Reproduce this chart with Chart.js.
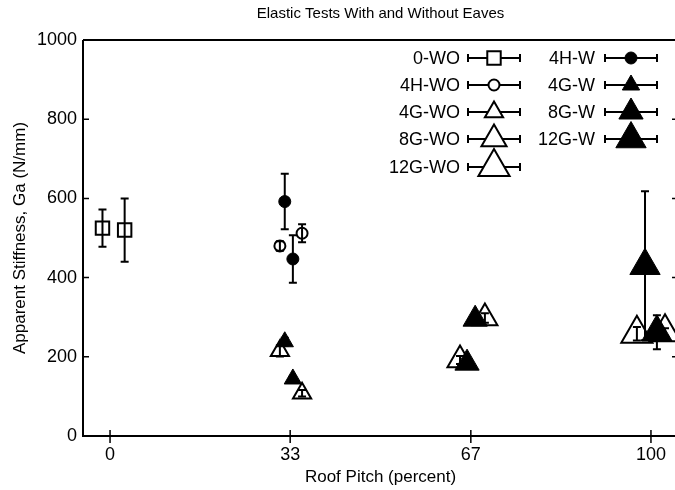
<!DOCTYPE html>
<html>
<head>
<meta charset="utf-8">
<script src="https://cdn.jsdelivr.net/npm/chart.js@4/dist/chart.umd.min.js"></script>
<style>
	body { margin: 0; overflow: hidden; background: #fff; }
</style>
</head>
<body>
<canvas id="myChart" width="680" height="490"></canvas>
<script>
// series: x = roof pitch (percent, jittered), y = stiffness, e = error half-width
var seriesNames = ['0-WO', '4H-WO', '4G-WO', '8G-WO', '12G-WO', '4H-W', '4G-W', '8G-W', '12G-W'];

var x0WO = [-1.4, 2.7];    var y0WO = [525, 520];  var e0WO = [47, 80];
var x4HWO = [31.4, 35.5];  var y4HWO = [480, 512]; var e4HWO = [12, 23];
var x4GWO = [31.4, 35.5];  var y4GWO = [215, 108]; var e4GWO = [14, 8];
var x8GWO = [64.7, 69.3];  var y8GWO = [192, 298]; var e8GWO = [10, 12];
var x12GWO = [97.4, 102.6]; var y12GWO = [258, 262]; var e12GWO = [17, 10];
var x4HW = [32.3, 33.8];   var y4HW = [592, 447];  var e4HW = [70, 60];
var x4GW = [32.3, 33.8];   var y4GW = [238, 144];  var e4GW = [10, 6];
var x8GW = [66.0, 67.5];   var y8GW = [184, 295];  var e8GW = [8, 12];
var x12GW = [98.9, 101.1]; var y12GW = [430, 262]; var e12GW = [188, 43];

var xTickValues = [0, 33.3, 66.7, 100];
var xTickLabels = ['0', '33', '67', '100'];

var FONT = '"Liberation Sans", Arial, Helvetica, sans-serif';

function pts(xs, ys) {
	var out = [];
	for (var i = 0; i < xs.length; i++) out.push({ x: xs[i], y: ys[i] });
	return out;
}

function series(label, xs, ys, es, style, radius, filled) {
	return {
		label: label,
		data: pts(xs, ys),
		errors: es,
		pointStyle: style,
		pointRadius: radius,
		pointHoverRadius: radius,
		pointBorderWidth: filled ? 1 : 2,
		pointBorderColor: '#000',
		pointBackgroundColor: filled ? '#000' : 'rgba(0,0,0,0)',
		showLine: false,
		filled: filled
	};
}

var datasets = [
	series(seriesNames[0], x0WO, y0WO, e0WO, 'rect', 9.5, false),
	series(seriesNames[1], x4HWO, y4HWO, e4HWO, 'circle', 5.5, false),
	series(seriesNames[2], x4GWO, y4GWO, e4GWO, 'triangle', 10.5, false),
	series(seriesNames[3], x8GWO, y8GWO, e8GWO, 'triangle', 14.5, false),
	series(seriesNames[4], x12GWO, y12GWO, e12GWO, 'triangle', 18, false),
	series(seriesNames[5], x4HW, y4HW, e4HW, 'circle', 6, true),
	series(seriesNames[6], x4GW, y4GW, e4GW, 'triangle', 10, true),
	series(seriesNames[7], x8GW, y8GW, e8GW, 'triangle', 14, true),
	series(seriesNames[8], x12GW, y12GW, e12GW, 'triangle', 17.5, true)
];

// vertical error bars with caps
var errorBars = {
	id: 'errorBars',
	beforeDatasetsDraw: function(chart) {
		var ctx = chart.ctx, xs = chart.scales.x, ys = chart.scales.y;
		ctx.save();
		ctx.strokeStyle = '#000';
		ctx.lineWidth = 2;
		chart.data.datasets.forEach(function(ds) {
			ds.data.forEach(function(p, i) {
				var x = xs.getPixelForValue(p.x);
				var top = ys.getPixelForValue(p.y + ds.errors[i]);
				var bot = ys.getPixelForValue(p.y - ds.errors[i]);
				ctx.beginPath();
				ctx.moveTo(x, top); ctx.lineTo(x, bot);
				ctx.moveTo(x - 4, top); ctx.lineTo(x + 4, top);
				ctx.moveTo(x - 4, bot); ctx.lineTo(x + 4, bot);
				ctx.stroke();
			});
		});
		ctx.restore();
	}
};

// gnuplot-like frame with inward ticks
var frame = {
	id: 'frame',
	afterDatasetsDraw: function(chart) {
		var ctx = chart.ctx, a = chart.chartArea, xs = chart.scales.x, ys = chart.scales.y;
		ctx.save();
		ctx.strokeStyle = '#000';
		ctx.lineWidth = 2;
		ctx.beginPath();
		ctx.moveTo(a.left, a.top); ctx.lineTo(a.right, a.top);
		ctx.moveTo(a.left, a.top); ctx.lineTo(a.left, a.bottom);
		ctx.moveTo(a.left - 1, a.bottom); ctx.lineTo(a.right, a.bottom);
		ctx.moveTo(a.right, a.top); ctx.lineTo(a.right, a.bottom);
		ctx.stroke();
		ctx.lineWidth = 1.5;
		ctx.beginPath();
		ys.ticks.forEach(function(t) {
			var y = ys.getPixelForValue(t.value);
			ctx.moveTo(a.left, y); ctx.lineTo(a.left + 6, y);
			ctx.moveTo(a.right, y); ctx.lineTo(a.right - 6, y);
		});
		xs.ticks.forEach(function(t) {
			var x = xs.getPixelForValue(t.value);
			ctx.moveTo(x, a.bottom - 6); ctx.lineTo(x, a.bottom + 7);
		});
		ctx.stroke();
		ctx.restore();
	}
};

// two-column key: label, errorbar sample, marker
var keyBox = {
	id: 'keyBox',
	afterDraw: function(chart) {
		var ctx = chart.ctx;
		var cols = [{ textRight: 460, lineLeft: 468, lineRight: 520 }, { textRight: 595, lineLeft: 605, lineRight: 657 }];
		var rowY = [58, 85, 112, 139, 167];
		ctx.save();
		ctx.font = '18px ' + FONT;
		ctx.textAlign = 'right';
		ctx.textBaseline = 'middle';
		chart.data.datasets.forEach(function(ds, i) {
			var col = cols[i < 5 ? 0 : 1];
			var y = rowY[i < 5 ? i : i - 5];
			var mid = (col.lineLeft + col.lineRight) / 2;
			ctx.fillStyle = '#000';
			ctx.fillText(ds.label, col.textRight, y + 1);
			ctx.strokeStyle = '#000';
			ctx.lineWidth = 2;
			ctx.beginPath();
			ctx.moveTo(col.lineLeft, y); ctx.lineTo(col.lineRight, y);
			ctx.moveTo(col.lineLeft, y - 4); ctx.lineTo(col.lineLeft, y + 4);
			ctx.moveTo(col.lineRight, y - 4); ctx.lineTo(col.lineRight, y + 4);
			ctx.stroke();
			ctx.fillStyle = ds.filled ? '#000' : '#fff';
			ctx.lineWidth = ds.pointBorderWidth;
			Chart.helpers.drawPoint(ctx, {
				pointStyle: ds.pointStyle,
				radius: ds.pointRadius,
				borderWidth: ds.pointBorderWidth,
				rotation: 0
			}, mid, y);
		});
		ctx.restore();
	}
};

var ctx = document.getElementById('myChart').getContext('2d');
var chart = new Chart(ctx, {
	type: 'scatter',
	data: { datasets: datasets },
	plugins: [errorBars, frame, keyBox],
	options: {
		responsive: false,
		animation: false,
		devicePixelRatio: 1,
		layout: { autoPadding: false, padding: { left: 0, right: 2, top: 0, bottom: 0 } },
		plugins: {
			legend: { display: false },
			tooltip: { enabled: false },
			title: {
				display: true,
				fullSize: false,
				text: 'Elastic Tests With and Without Eaves',
				color: '#000',
				font: { family: FONT, size: 15, weight: 'normal' },
				padding: { top: 5, bottom: 17 }
			}
		},
		scales: {
			x: {
				type: 'linear',
				min: -5,
				max: 105,
				grid: { display: false, drawTicks: false },
				border: { display: false },
				afterFit: function(scale) {
					scale.height = 54;
					scale.paddingLeft = 0;
					scale.paddingRight = 0;
				},
				afterBuildTicks: function(scale) {
					scale.ticks = xTickValues.map(function(v) { return { value: v }; });
				},
				ticks: {
					color: '#000',
					padding: 8,
					maxRotation: 0,
					font: { family: FONT, size: 18 },
					callback: function(value, index) { return xTickLabels[index]; }
				},
				title: {
					display: true,
					text: 'Roof Pitch (percent)',
					color: '#000',
					font: { family: FONT, size: 17 },
					padding: { top: 0, bottom: 2 }
				}
			},
			y: {
				min: 0,
				max: 1000,
				grid: { display: false, drawTicks: false },
				border: { display: false },
				afterFit: function(scale) {
					scale.width = 83;
					scale.paddingTop = 0;
					scale.paddingBottom = 0;
				},
				ticks: {
					stepSize: 200,
					color: '#000',
					padding: 6,
					font: { family: FONT, size: 18 },
					callback: function(value) { return String(value); }
				},
				title: {
					display: true,
					text: 'Apparent Stiffness, Ga (N/mm)',
					color: '#000',
					font: { family: FONT, size: 17 },
					padding: { top: 10, bottom: 0 }
				}
			}
		}
	}
});
</script>
</body>
</html>
